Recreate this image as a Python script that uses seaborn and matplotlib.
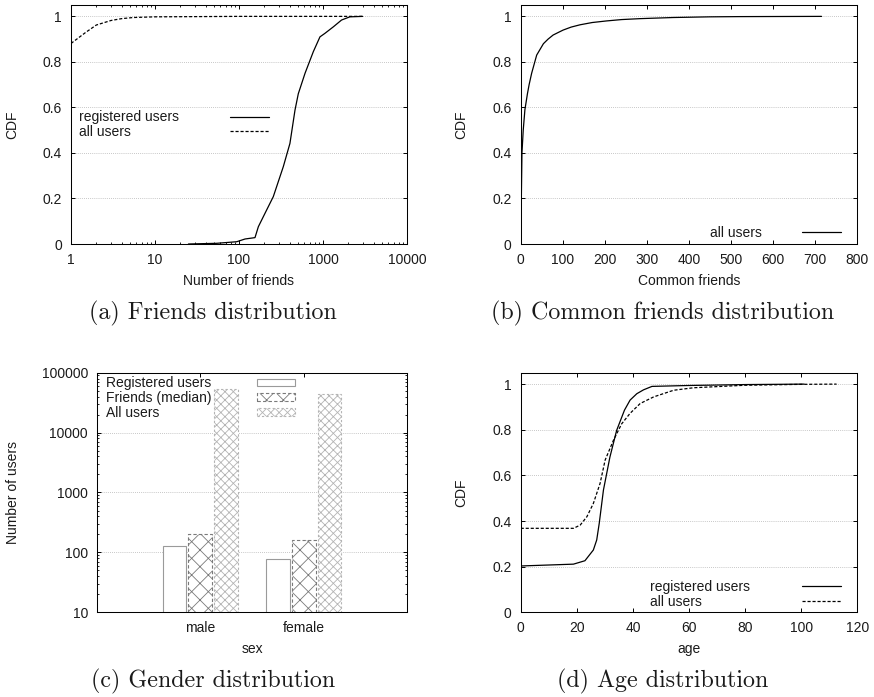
import numpy as np
import pandas as pd
import matplotlib
matplotlib.use("Agg")
import matplotlib.pyplot as plt
import seaborn as sns
from matplotlib.ticker import FixedLocator, FixedFormatter, NullFormatter
from matplotlib.lines import Line2D
from matplotlib.legend import Legend

# ---------------- data ----------------
# (a) friends distribution (CDF, log x)
friends_reg_x = [25, 54, 94, 118, 155, 170, 204, 256, 337, 404, 464, 508, 611, 767, 920, 1050, 1327, 1663, 2090, 2960]
friends_reg_y = [0.0, 0.003, 0.01, 0.022, 0.028, 0.076, 0.135, 0.208, 0.34, 0.442, 0.588, 0.66, 0.75, 0.845, 0.91, 0.925, 0.954, 0.984, 0.998, 1.0]
friends_all_x = [1, 1.5, 2, 3, 4, 5.5, 10, 100, 3000]
friends_all_y = [0.881, 0.93, 0.962, 0.982, 0.99, 0.995, 0.998, 1.0, 1.0]

# (b) common friends distribution
common_x = [0.7, 1.5, 3, 6, 10, 16, 20, 26, 32, 38, 46, 54, 65, 77, 90, 101, 120, 141, 170, 204, 240, 283, 362, 450, 521, 715]
common_y = [0.10, 0.20, 0.40, 0.50, 0.59, 0.66, 0.70, 0.75, 0.79, 0.83, 0.855, 0.88, 0.90, 0.918, 0.93, 0.94, 0.953, 0.963, 0.973, 0.98, 0.986, 0.99, 0.995, 0.998, 0.999, 1.0]

# (c) gender distribution
sexes = ["male", "female"]
bar_series = ["Registered users", "Friends (median)", "All users"]
registered_counts = [126, 77]
friends_median = [203, 161]
all_counts = [53500, 44600]

# (d) age distribution
age_reg_x = [0, 18.8, 22.9, 25.9, 27.1, 28.0, 29.5, 31.8, 34.2, 37.0, 39.0, 41.4, 43.8, 46.8, 60, 80, 101]
age_reg_y = [0.203, 0.211, 0.226, 0.273, 0.317, 0.39, 0.536, 0.68, 0.797, 0.886, 0.93, 0.958, 0.975, 0.99, 0.994, 0.998, 1.0]
age_all_x = [0, 18.8, 21.2, 23.6, 25.9, 28.3, 30.1, 33.1, 36.0, 39.0, 42.6, 47.4, 54.5, 61.6, 80, 100, 112.6]
age_all_y = [0.368, 0.368, 0.382, 0.419, 0.477, 0.565, 0.667, 0.755, 0.826, 0.872, 0.915, 0.944, 0.973, 0.984, 0.995, 0.999, 1.0]

# ticks
cdf_ticks = [0, 0.2, 0.4, 0.6, 0.8, 1]
cdf_tick_labels = ["0", "0.2", "0.4", "0.6", "0.8", "1"]
friends_xticks = [1, 10, 100, 1000, 10000]
friends_xtick_labels = ["1", "10", "100", "1000", "10000"]
common_xticks = [0, 100, 200, 300, 400, 500, 600, 700, 800]
age_xticks = [0, 20, 40, 60, 80, 100, 120]
users_yticks = [10, 100, 1000, 10000, 100000]
users_ytick_labels = ["10", "100", "1000", "10000", "100000"]

captions = ["(a) Friends distribution", "(b) Common friends distribution",
            "(c) Gender distribution", "(d) Age distribution"]

# ---------------- style ----------------
sns.set_theme(style="ticks")
plt.rcParams["font.family"] = ["Liberation Sans", "DejaVu Sans"]
plt.rcParams["hatch.linewidth"] = 0.6

W, H = 874, 697
fig = plt.figure(figsize=(W / 100, H / 100), dpi=100)
FS = 10


def add_ax(l, t, r, b):
    return fig.add_axes([l / W, 1 - b / H, (r - l) / W, (b - t) / H])


def style(ax):
    for s in ax.spines.values():
        s.set_visible(True)
        s.set_color("black")
        s.set_linewidth(0.75)
    ax.tick_params(which="both", direction="in", top=True, right=True,
                   colors="black", labelcolor="#1a1a1a", labelsize=FS, pad=6.5)
    ax.tick_params(which="major", length=3, width=0.7)
    ax.tick_params(which="minor", length=1.6, width=0.6)
    ax.yaxis.grid(True, which="major", linestyle=(0, (1, 1.5)), color="#b5b5b5", linewidth=0.6)
    ax.xaxis.grid(False)
    ax.set_axisbelow(True)


def place_labels(ax, xlabel, ylabel, xl_px, yl_px):
    ax.set_xlabel(xlabel, fontsize=FS, color="#1a1a1a")
    ax.set_ylabel(ylabel, fontsize=FS, color="#1a1a1a")
    inv = ax.transAxes.inverted()
    xx, xy = inv.transform((xl_px[0], H - xl_px[1]))
    yx, yy = inv.transform((yl_px[0], H - yl_px[1]))
    ax.xaxis.label.set_va("center")
    ax.yaxis.label.set_va("center")
    ax.xaxis.set_label_coords(xx, xy)
    ax.yaxis.set_label_coords(yx, yy)


def key(ax, handles, labels, text_left_px, handle_left_px, cy_px, hl=2.8, hh=0.7):
    common = dict(loc="center left", bbox_transform=fig.transFigure, frameon=False,
                  labelspacing=0.05, borderpad=0, borderaxespad=0, fontsize=FS,
                  handleheight=hh)
    blanks = [Line2D([], [], linestyle="none") for _ in labels]
    leg_text = Legend(ax, blanks, labels, bbox_to_anchor=(text_left_px / W, 1 - cy_px / H),
                      handlelength=0, handletextpad=0, labelcolor="#1a1a1a", **common)
    ax.add_artist(leg_text)
    leg_handles = Legend(ax, handles, [" "] * len(labels),
                         bbox_to_anchor=(handle_left_px / W, 1 - cy_px / H),
                         handlelength=hl, handletextpad=0, **common)
    ax.add_artist(leg_handles)


dash = (0, (2.5, 1.5))

# ---------------- (a) ----------------
axa = add_ax(71, 5, 407, 244)
sns.lineplot(x=friends_reg_x, y=friends_reg_y, ax=axa, color="black", linewidth=0.9,
             estimator=None, sort=False, label="registered users", legend=False)
sns.lineplot(x=friends_all_x, y=friends_all_y, ax=axa, color="black", linewidth=0.9,
             linestyle=dash, estimator=None, sort=False, label="all users", legend=False)
axa.set_xscale("log")
axa.set_xlim(1, 10000)
axa.set_ylim(0, 1.05)
axa.xaxis.set_major_locator(FixedLocator(friends_xticks))
axa.xaxis.set_major_formatter(FixedFormatter(friends_xtick_labels))
axa.xaxis.set_minor_formatter(NullFormatter())
axa.yaxis.set_major_locator(FixedLocator(cdf_ticks))
axa.yaxis.set_major_formatter(FixedFormatter(cdf_tick_labels))
style(axa)
place_labels(axa, "Number of friends", "CDF", (239, 280.7), (12.7, 124.5))
h, l = axa.get_legend_handles_labels()
key(axa, h, l, 79.3, 230, 124.8)

# ---------------- (b) ----------------
axb = add_ax(520.7, 5, 857.3, 244)
sns.lineplot(x=common_x, y=common_y, ax=axb, color="black", linewidth=0.9,
             estimator=None, sort=False, label="all users", legend=False)
axb.set_xlim(0, 800)
axb.set_ylim(0, 1.05)
axb.xaxis.set_major_locator(FixedLocator(common_xticks))
axb.yaxis.set_major_locator(FixedLocator(cdf_ticks))
axb.yaxis.set_major_formatter(FixedFormatter(cdf_tick_labels))
style(axb)
place_labels(axb, "Common friends", "CDF", (689, 280.7), (461.7, 124.5))
h, l = axb.get_legend_handles_labels()
key(axb, h, l, 710, 801.7, 233.3)

# ---------------- (c) ----------------
axc = add_ax(97, 372.7, 407, 612.3)
bar_df = pd.DataFrame({
    "sex": sexes * 3,
    "series": [s for s in bar_series for _ in sexes],
    "value": registered_counts + friends_median + all_counts,
})
sns.barplot(data=bar_df, x="sex", y="value", hue="series", order=sexes, hue_order=bar_series,
            width=0.75, gap=0.08, ax=axc, legend=False,
            palette=["white", "white", "white"], saturation=1)
bar_styles = [
    dict(edgecolor="#9a9a9a", hatch=None, ls="-"),
    dict(edgecolor="#7a7a7a", hatch="xx", ls=(0, (3, 2))),
    dict(edgecolor="#b4b4b4", hatch="xxxx", ls=(0, (2, 2))),
]
for cont, st in zip(axc.containers, bar_styles):
    for p in cont:
        p.set_facecolor("white")
        p.set_edgecolor(st["edgecolor"])
        p.set_hatch(st["hatch"])
        p.set_linestyle(st["ls"])
        p.set_linewidth(0.8)
axc.set_yscale("log")
axc.set_ylim(10, 100000)
axc.set_xlim(-1, 2)
axc.yaxis.set_major_locator(FixedLocator(users_yticks))
axc.yaxis.set_major_formatter(FixedFormatter(users_ytick_labels))
axc.yaxis.set_minor_formatter(NullFormatter())
style(axc)
place_labels(axc, "sex", "Number of users", (252, 649.3), (12.7, 492.5))
handles = [cont.patches[0] for cont in axc.containers]
key(axc, handles, bar_series, 106, 257.3, 398.1, hl=2.7, hh=0.5)

# ---------------- (d) ----------------
axd = add_ax(520.7, 372.7, 857.3, 612.3)
sns.lineplot(x=age_reg_x, y=age_reg_y, ax=axd, color="black", linewidth=0.9,
             estimator=None, sort=False, label="registered users", legend=False)
sns.lineplot(x=age_all_x, y=age_all_y, ax=axd, color="black", linewidth=0.9,
             linestyle=dash, estimator=None, sort=False, label="all users", legend=False)
axd.set_xlim(0, 120)
axd.set_ylim(0, 1.05)
axd.xaxis.set_major_locator(FixedLocator(age_xticks))
axd.yaxis.set_major_locator(FixedLocator(cdf_ticks))
axd.yaxis.set_major_formatter(FixedFormatter(cdf_tick_labels))
style(axd)
place_labels(axd, "age", "CDF", (689, 649.3), (461.7, 492.5))
h, l = axd.get_legend_handles_labels()
key(axd, h, l, 650, 801.7, 594.2)

# ---------------- captions ----------------
cap_pos = [(213, 313.3), (663, 313.3), (213, 681.7), (663, 681.7)]
for text, (cx, cy) in zip(captions, cap_pos):
    fig.text(cx / W, 1 - cy / H, text, family="cmr10", fontsize=17.3,
             ha="center", va="center", color="#1a1a1a")

fig.savefig("out.png", dpi=100)
